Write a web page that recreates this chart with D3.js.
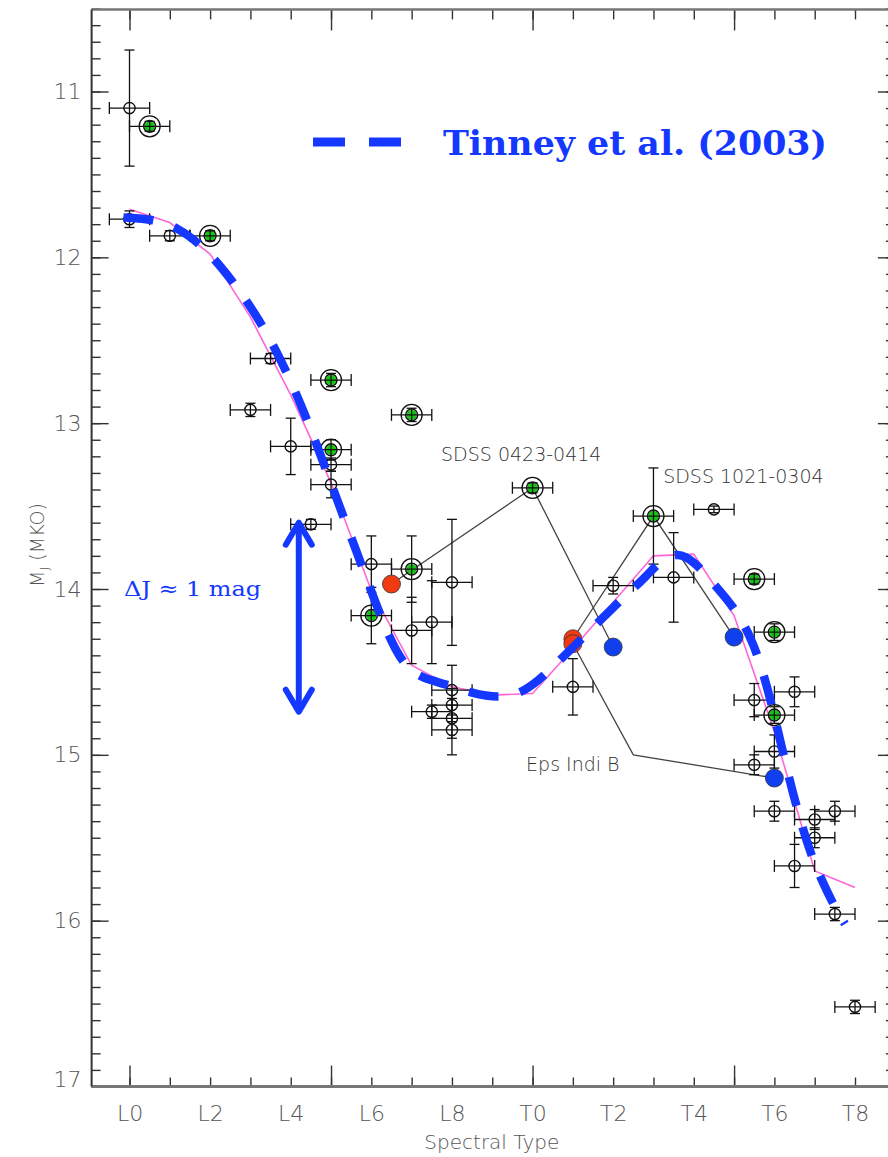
<!DOCTYPE html>
<html>
<head>
<meta charset="utf-8">
<script src="https://cdn.jsdelivr.net/npm/d3@7"></script>
<style>
  html, body { margin: 0; padding: 0; background: #fff; }
  svg { display: block; }
</style>
</head>
<body>
<svg id="chart" width="888" height="1157"></svg>
<script>
// Spectral type is numeric: L0 = 0 ... L9 = 9, T0 = 10 ... T8 = 18
const typeTicks = [0, 2, 4, 6, 8, 10, 12, 14, 16, 18];
const typeTickLabels = ["L0", "L2", "L4", "L6", "L8", "T0", "T2", "T4", "T6", "T8"];
const magTicks = [11, 12, 13, 14, 15, 16, 17];

// Single field dwarfs: [spectral type, M_J, type error, M_J error]
const fieldDwarfs = [
  [0, 11.10, 0.5, 0.35], [0, 11.77, 0.5, 0.05], [1, 11.87, 0.5, 0.03],
  [3.5, 12.61, 0.5, 0.03], [3, 12.92, 0.5, 0.04], [4, 13.14, 0.5, 0.17],
  [5, 13.25, 0.5, 0.04], [5, 13.37, 0.5, 0.08], [4.5, 13.61, 0.5, 0.03],
  [6, 13.85, 0.5, 0.17], [8, 13.96, 0.5, 0.38], [7, 14.25, 0.5, 0.20],
  [7.5, 14.20, 0.5, 0.25], [8, 14.61, 0.5, 0.15], [8, 14.70, 0.5, 0.10],
  [8, 14.78, 0.5, 0.12], [8, 14.85, 0.5, 0.15], [7.5, 14.74, 0.5, 0.04],
  [11, 14.59, 0.5, 0.17], [12, 13.98, 0.5, 0.05], [13.5, 13.93, 0.5, 0.27],
  [14.5, 13.52, 0.5, 0.02], [16.5, 14.62, 0.5, 0.09], [15.5, 14.67, 0.5, 0.10],
  [16, 14.98, 0.5, 0.10], [15.5, 15.06, 0.5, 0.06], [16, 15.34, 0.5, 0.06],
  [17.5, 15.34, 0.5, 0.06], [17, 15.39, 0.5, 0.06], [17, 15.50, 0.5, 0.06],
  [16.5, 15.67, 0.5, 0.13], [17.5, 15.96, 0.5, 0.04], [18, 16.52, 0.5, 0.04]
];

// Unresolved (combined-light) binaries: [spectral type, M_J, type error, M_J error]
const unresolvedBinaries = [
  [0.5, 11.21, 0.5, 0.03], [2, 11.87, 0.5, 0.03], [5, 12.74, 0.5, 0.04],
  [5, 13.16, 0.5, 0.06], [7, 12.95, 0.5, 0.04], [7, 13.88, 0.5, 0.20],
  [6, 14.16, 0.5, 0.17], [10, 13.39, 0.5, 0.03], [13, 13.56, 0.5, 0.29],
  [15.5, 13.94, 0.5, 0.03], [16, 14.26, 0.5, 0.05], [16, 14.76, 0.5, 0.05]
];

// Resolved components: primaries and secondaries [spectral type, M_J]
const primaries = [[6.5, 13.97], [11, 14.30], [11, 14.33]];
const secondaries = [[12, 14.35], [15, 14.29], [16, 15.14]];

// Connecting paths through each system
const sdss0423 = [[6.5, 13.97], [10, 13.39], [12, 14.35]];
const sdss1021 = [[11, 14.30], [13, 13.56], [15, 14.29]];
const epsIndiB = [[11, 14.33], [12.5, 15.00], [16, 15.14]];

// System labels: [text, spectral type, M_J] (left edge, vertical centre)
const systemLabels = [
  ["SDSS 0423-0414", 7.73, 13.19],
  ["SDSS 1021-0304", 13.24, 13.32],
  ["Eps Indi B", 9.84, 15.06]
];

// Polynomial fit, evaluated at each subtype L0 ... T8
const fitTypes = [0, 1, 2, 3, 4, 5, 6, 7, 8, 9, 10, 11, 12, 13, 14, 15, 16, 17, 18];
const fitMags = [11.71, 11.79, 11.98, 12.36, 12.83, 13.36, 14.01, 14.46, 14.59, 14.64,
                 14.63, 14.36, 14.08, 13.80, 13.79, 14.16, 14.86, 15.70, 15.80];

// Tinney et al. (2003) relation
const tinneyTypes = [-0.15, 0.6, 1.2, 1.8, 2.25, 2.7, 3.2, 3.73, 4.3, 4.8, 5.3, 5.75, 6.25,
  6.6, 6.9, 7.3, 7.8, 8.5, 9.2, 9.8, 10.3, 10.8, 11.3, 11.8, 12.3, 12.8, 13.2, 13.6,
  14.0, 14.5, 15.0, 15.4, 15.7, 16.0, 16.3, 16.6, 16.9, 17.2, 17.5, 17.75];
const tinneyMags = [11.76, 11.77, 11.82, 11.93, 12.05, 12.19, 12.37, 12.60, 12.91, 13.23,
  13.56, 13.85, 14.18, 14.37, 14.48, 14.54, 14.57, 14.63, 14.66, 14.62, 14.52, 14.40,
  14.28, 14.16, 14.04, 13.93, 13.82, 13.78, 13.83, 13.97, 14.11, 14.28, 14.48, 14.76,
  15.08, 15.36, 15.60, 15.77, 15.92, 16.02];

// Spread of M_J at the L/T transition
const deltaArrow = { type: 4.2, top: 13.60, bottom: 14.74 };

const BLUE = "#1438ff";
const INK = "#111";
const AXIS_GRAY = "#555";

const svg = d3.select("#chart");
svg.append("rect").attr("width", 888).attr("height", 1157).attr("fill", "#fff");

const x = d3.scaleLinear().domain([0, 18]).range([129.5, 855]);
const y = d3.scaleLinear().domain([11, 17]).range([91.5, 1086.5]);

const frame = { left: x(-0.94), right: x(18.99), top: y(10.505), bottom: y(17) };

// ---------- axes ----------
const axesG = svg.append("g");

function styleAxis(g) {
  g.select(".domain").remove();
  g.selectAll(".tick line").attr("stroke", "#333").attr("stroke-width", 1.4);
  g.selectAll("text")
    .attr("fill", AXIS_GRAY)
    .attr("font-family", "'DejaVu Sans', sans-serif")
    .attr("font-weight", 200)
    .attr("font-size", 22);
}

const allTypes = d3.range(0, 19);
const majorTypes = [0, 5, 10, 15];
const minorMags = d3.range(105, 171).map(v => v / 10);

// bottom
axesG.append("g").attr("transform", `translate(0,${frame.bottom})`)
  .call(d3.axisBottom(x).tickValues(allTypes).tickSize(-9).tickFormat(""))
  .call(styleAxis);
axesG.append("g").attr("transform", `translate(0,${frame.bottom})`)
  .call(d3.axisBottom(x).tickValues(majorTypes).tickSize(-21).tickFormat(""))
  .call(styleAxis);
axesG.append("g").attr("transform", `translate(0,${frame.bottom})`)
  .call(d3.axisBottom(x).tickValues(typeTicks).tickSize(0).tickPadding(19)
    .tickFormat((d, i) => typeTickLabels[i]))
  .call(styleAxis);

// top
axesG.append("g").attr("transform", `translate(0,${frame.top})`)
  .call(d3.axisTop(x).tickValues(allTypes).tickSize(-10).tickFormat(""))
  .call(styleAxis);
axesG.append("g").attr("transform", `translate(0,${frame.top})`)
  .call(d3.axisTop(x).tickValues(majorTypes).tickSize(-21).tickFormat(""))
  .call(styleAxis);

// left
axesG.append("g").attr("transform", `translate(${frame.left},0)`)
  .call(d3.axisLeft(y).tickValues(minorMags).tickSize(-9).tickFormat(""))
  .call(styleAxis);
axesG.append("g").attr("transform", `translate(${frame.left},0)`)
  .call(d3.axisLeft(y).tickValues(magTicks).tickSize(-17).tickFormat(""))
  .call(styleAxis);
const leftLabels = axesG.append("g").attr("transform", `translate(${frame.left},0)`)
  .call(d3.axisLeft(y).tickValues(magTicks).tickSize(0).tickPadding(10).tickFormat(d3.format("d")))
  .call(styleAxis);
leftLabels.selectAll(".tick").filter(d => d === 17).select("text").attr("dy", "0");

// right
axesG.append("g").attr("transform", `translate(${frame.right},0)`)
  .call(d3.axisRight(y).tickValues(minorMags).tickSize(-9).tickFormat(""))
  .call(styleAxis);
axesG.append("g").attr("transform", `translate(${frame.right},0)`)
  .call(d3.axisRight(y).tickValues(magTicks).tickSize(-17).tickFormat(""))
  .call(styleAxis);

// frame
axesG.append("line").attr("x1", frame.left).attr("x2", frame.right)
  .attr("y1", frame.bottom).attr("y2", frame.bottom).attr("stroke", "#777").attr("stroke-width", 3);
axesG.append("line").attr("x1", frame.left).attr("x2", frame.right)
  .attr("y1", frame.top).attr("y2", frame.top).attr("stroke", "#777").attr("stroke-width", 2.5);
axesG.append("line").attr("x1", frame.left).attr("x2", frame.left)
  .attr("y1", frame.top).attr("y2", frame.bottom).attr("stroke", "#333").attr("stroke-width", 2);
axesG.append("line").attr("x1", frame.right).attr("x2", frame.right)
  .attr("y1", frame.top).attr("y2", frame.bottom).attr("stroke", "#333").attr("stroke-width", 2);

// axis titles
svg.append("text")
  .attr("x", (frame.left + 888) / 2 + 2).attr("y", 1149)
  .attr("text-anchor", "middle")
  .attr("fill", AXIS_GRAY)
  .attr("font-family", "'DejaVu Sans', sans-serif").attr("font-weight", 200)
  .attr("font-size", 20)
  .text("Spectral Type");

const yTitle = svg.append("text")
  .attr("transform", "translate(44,545) rotate(-90)")
  .attr("text-anchor", "middle")
  .attr("fill", AXIS_GRAY)
  .attr("font-family", "'DejaVu Sans', sans-serif").attr("font-weight", 200)
  .attr("font-size", 19);
yTitle.append("tspan").text("M");
yTitle.append("tspan").attr("font-size", 13).attr("dy", 5).text("J");
yTitle.append("tspan").attr("dy", -5).text(" (MKO)");

// ---------- curves ----------
const plot = svg.append("g");

const fitLine = d3.line().x(d => x(d[0])).y(d => y(d[1])).curve(d3.curveLinear);
plot.append("path")
  .datum(fitTypes.map((t, i) => [t, fitMags[i]]))
  .attr("d", fitLine)
  .attr("fill", "none").attr("stroke", "#ff66d8").attr("stroke-width", 1.6);

// connecting paths of the binary systems
const sysLine = d3.line().x(d => x(d[0])).y(d => y(d[1]));
[sdss0423, sdss1021, epsIndiB].forEach(pts => {
  plot.append("path").datum(pts).attr("d", sysLine)
    .attr("fill", "none").attr("stroke", "#444").attr("stroke-width", 1.3);
});

// ---------- error bars ----------
function errorBars(g, data) {
  const cap = 6;
  data.forEach(([t, m, te, me]) => {
    const cx = x(t), cy = y(m);
    const eg = g.append("g").attr("stroke", INK).attr("stroke-width", 1.3).attr("fill", "none");
    eg.append("line").attr("x1", x(t - te)).attr("x2", x(t + te)).attr("y1", cy).attr("y2", cy);
    eg.append("line").attr("x1", x(t - te)).attr("x2", x(t - te)).attr("y1", cy - cap).attr("y2", cy + cap);
    eg.append("line").attr("x1", x(t + te)).attr("x2", x(t + te)).attr("y1", cy - cap).attr("y2", cy + cap);
    eg.append("line").attr("x1", cx).attr("x2", cx).attr("y1", y(m - me)).attr("y2", y(m + me));
    eg.append("line").attr("x1", cx - 5).attr("x2", cx + 5).attr("y1", y(m - me)).attr("y2", y(m - me));
    eg.append("line").attr("x1", cx - 5).attr("x2", cx + 5).attr("y1", y(m + me)).attr("y2", y(m + me));
  });
}

// unresolved binaries: green core, inner ring, outer ring
const binG = plot.append("g");
binG.selectAll("circle.core").data(unresolvedBinaries).join("circle")
  .attr("class", "core")
  .attr("cx", d => x(d[0])).attr("cy", d => y(d[1])).attr("r", 5.2)
  .attr("fill", "#10c810");
errorBars(binG, unresolvedBinaries);
binG.selectAll("circle.inner").data(unresolvedBinaries).join("circle")
  .attr("class", "inner")
  .attr("cx", d => x(d[0])).attr("cy", d => y(d[1])).attr("r", 6)
  .attr("fill", "none").attr("stroke", INK).attr("stroke-width", 1.4);
binG.selectAll("circle.outer").data(unresolvedBinaries).join("circle")
  .attr("class", "outer")
  .attr("cx", d => x(d[0])).attr("cy", d => y(d[1])).attr("r", 10.5)
  .attr("fill", "none").attr("stroke", INK).attr("stroke-width", 1.3);

// field dwarfs: open circles
const fieldG = plot.append("g");
errorBars(fieldG, fieldDwarfs);
fieldG.selectAll("circle").data(fieldDwarfs).join("circle")
  .attr("cx", d => x(d[0])).attr("cy", d => y(d[1])).attr("r", 5.6)
  .attr("fill", "none").attr("stroke", INK).attr("stroke-width", 1.4);

// resolved components
plot.append("g").selectAll("circle").data(primaries).join("circle")
  .attr("cx", d => x(d[0])).attr("cy", d => y(d[1])).attr("r", 9)
  .attr("fill", "#f03a12").attr("stroke", "#333").attr("stroke-width", 0.8);
plot.append("g").selectAll("circle").data(secondaries).join("circle")
  .attr("cx", d => x(d[0])).attr("cy", d => y(d[1])).attr("r", 9)
  .attr("fill", "#1040ee").attr("stroke", "#333").attr("stroke-width", 0.8);

// Tinney et al. relation: thick dashed blue curve
const tinneyLine = d3.line().x(d => x(d[0])).y(d => y(d[1])).curve(d3.curveBasis);
plot.append("path")
  .datum(tinneyTypes.map((t, i) => [t, tinneyMags[i]]))
  .attr("d", tinneyLine)
  .attr("fill", "none").attr("stroke", BLUE).attr("stroke-width", 8.5)
  .attr("stroke-dasharray", "30 22").attr("stroke-linecap", "butt");

// system labels
plot.append("g").selectAll("text").data(systemLabels).join("text")
  .attr("x", d => x(d[1])).attr("y", d => y(d[2])).attr("dy", "0.35em")
  .attr("fill", "#333")
  .attr("font-family", "'DejaVu Sans', sans-serif").attr("font-weight", 200)
  .attr("font-size", 19)
  .text(d => d[0]);

// ---------- annotations ----------
const ax = x(deltaArrow.type), ayTop = y(deltaArrow.top), ayBot = y(deltaArrow.bottom);
const arrowG = svg.append("g").attr("stroke", BLUE).attr("stroke-width", 6)
  .attr("fill", "none").attr("stroke-linecap", "round").attr("stroke-linejoin", "round");
arrowG.append("line").attr("x1", ax).attr("x2", ax).attr("y1", ayTop + 2).attr("y2", ayBot - 2);
arrowG.append("polyline").attr("points", `${ax - 13},${ayTop + 22} ${ax},${ayTop} ${ax + 13},${ayTop + 22}`);
arrowG.append("polyline").attr("points", `${ax - 13},${ayBot - 22} ${ax},${ayBot} ${ax + 13},${ayBot - 22}`);

svg.append("text")
  .attr("x", 124).attr("y", 596)
  .attr("fill", BLUE)
  .attr("font-family", "'DejaVu Serif', serif")
  .attr("font-size", 21)
  .attr("textLength", 137).attr("lengthAdjust", "spacingAndGlyphs")
  .text("\u0394J \u2248 1 mag");

// legend
svg.append("line").attr("x1", 313).attr("x2", 401).attr("y1", 142).attr("y2", 142)
  .attr("stroke", BLUE).attr("stroke-width", 9).attr("stroke-dasharray", "32 24");
svg.append("text")
  .attr("x", 443).attr("y", 155)
  .attr("fill", BLUE)
  .attr("font-family", "'DejaVu Serif', serif").attr("font-weight", "bold")
  .attr("font-size", 33)
  .attr("textLength", 384).attr("lengthAdjust", "spacingAndGlyphs")
  .text("Tinney et al. (2003)");
</script>
</body>
</html>
